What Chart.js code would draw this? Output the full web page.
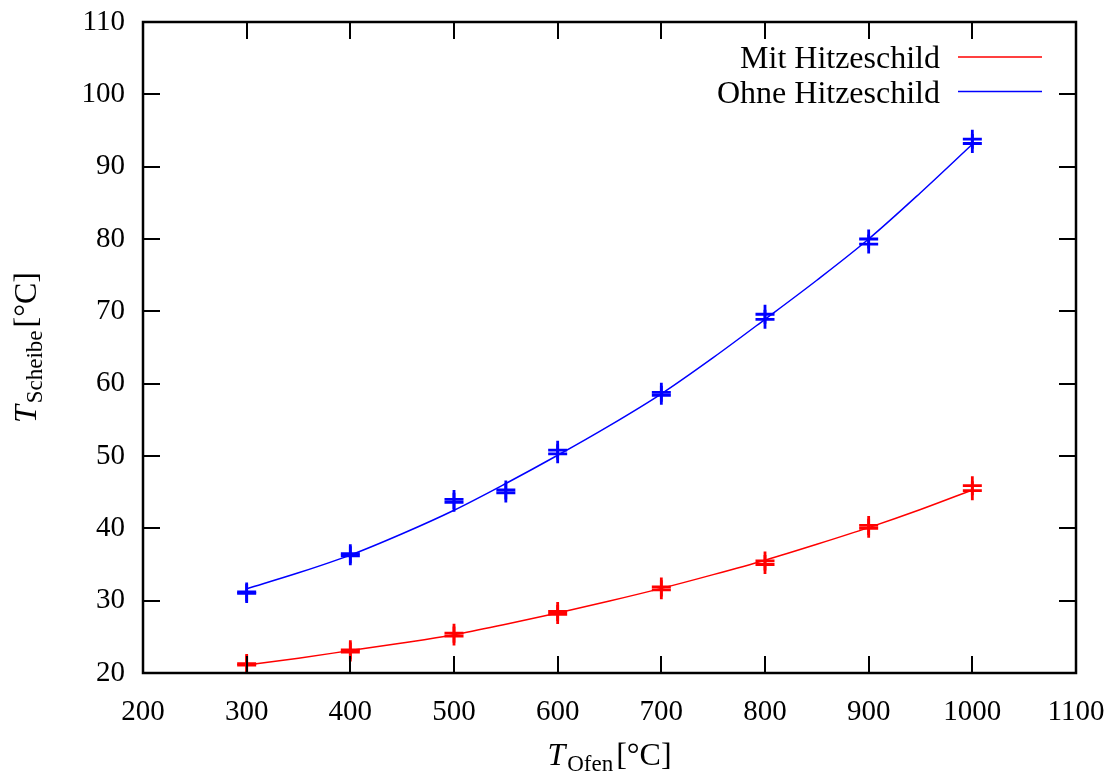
<!DOCTYPE html>
<html>
<head>
<meta charset="utf-8">
<script src="https://cdn.jsdelivr.net/npm/chart.js@4/dist/chart.umd.min.js"></script>
<style>
  html, body { margin: 0; padding: 0; background: #fff; }
  #wrap { width: 1110px; height: 776px; }
</style>
</head>
<body>
<div id="wrap"><canvas id="chart"></canvas></div>
<script>
// measured points (two readings per oven temperature)
const mitX = [300, 300, 400, 400, 500, 500, 600, 600, 700, 700, 800, 800, 900, 900, 1000, 1000];
const mitY = [21.1, 21.3, 22.9, 23.2, 25.1, 25.5, 28.1, 28.5, 31.5, 31.9, 35.0, 35.5, 40.0, 40.4, 45.2, 45.9];
const ohneX = [300, 300, 400, 400, 500, 500, 550, 550, 600, 600, 700, 700, 800, 800, 900, 900, 1000, 1000];
const ohneY = [31.0, 31.2, 36.2, 36.5, 43.6, 44.0, 44.9, 45.3, 50.3, 50.8, 58.4, 58.8, 68.9, 69.6, 79.3, 80.0, 93.2, 93.8];

// fit curves
const fitX = [300, 350, 400, 450, 500, 550, 600, 650, 700, 750, 800, 850, 900, 950, 1000];
const mitFit = [21.1, 22.05, 23.1, 24.15, 25.3, 26.75, 28.3, 29.95, 31.7, 33.6, 35.6, 37.8, 40.1, 42.6, 45.3];
const ohneFit = [31.65, 33.85, 36.3, 39.25, 42.5, 46.2, 50.1, 54.2, 58.6, 63.6, 68.9, 74.3, 80.0, 86.4, 93.1];

const xTicks = [200, 300, 400, 500, 600, 700, 800, 900, 1000, 1100];
const yTicks = [20, 30, 40, 50, 60, 70, 80, 90, 100, 110];

const RED = '#ff0000';
const BLUE = '#0000ff';
const SERIF = '"Liberation Serif", "DejaVu Serif", serif';

const pts = (xs, ys) => xs.map((x, i) => ({ x: x, y: ys[i] }));

// frame + inward ticks on all four sides, gnuplot style
const framePlugin = {
    id: 'frame',
    afterDatasetsDraw(chart) {
        const { ctx, chartArea: a, scales } = chart;
        const len = 17;
        ctx.save();
        ctx.strokeStyle = '#000';
        ctx.lineWidth = 2;
        ctx.beginPath();
        xTicks.forEach(v => {
            const px = Math.round(scales.x.getPixelForValue(v));
            ctx.moveTo(px, a.bottom); ctx.lineTo(px, a.bottom - len);
            ctx.moveTo(px, a.top); ctx.lineTo(px, a.top + len);
        });
        yTicks.forEach(v => {
            const py = Math.round(scales.y.getPixelForValue(v));
            ctx.moveTo(a.left, py); ctx.lineTo(a.left + len, py);
            ctx.moveTo(a.right, py); ctx.lineTo(a.right - len, py);
        });
        ctx.stroke();
        ctx.lineWidth = 2.5;
        ctx.strokeRect(a.left, a.top, a.right - a.left, a.bottom - a.top);
        ctx.restore();
    }
};

// draws "T_sub[°C]" with a lowered subscript
function drawLabel(ctx, sub, cx, baseline) {
    const big = '32px ' + SERIF;
    const bigIt = 'italic 32px ' + SERIF;
    const small = '23px ' + SERIF;
    ctx.font = bigIt; const wT = ctx.measureText('T').width;
    ctx.font = small; const wS = ctx.measureText(sub).width;
    ctx.font = big; const wU = ctx.measureText('[°C]').width;
    let x = cx - (wT + 2 + wS + 3 + wU) / 2;
    ctx.textBaseline = 'alphabetic';
    ctx.textAlign = 'left';
    ctx.font = bigIt; ctx.fillText('T', x, baseline); x += wT + 2;
    ctx.font = small; ctx.fillText(sub, x, baseline + 6); x += wS + 3;
    ctx.font = big; ctx.fillText('[°C]', x, baseline);
}

const titlesPlugin = {
    id: 'titles',
    afterDraw(chart) {
        const { ctx, chartArea: a } = chart;
        ctx.save();
        ctx.fillStyle = '#000';
        drawLabel(ctx, 'Ofen', (a.left + a.right) / 2, 765);
        ctx.translate(36, (a.top + a.bottom) / 2);
        ctx.rotate(-Math.PI / 2);
        drawLabel(ctx, 'Scheibe', 0, 0);
        ctx.restore();
    }
};

// key in the upper right corner: text then line sample
const keyPlugin = {
    id: 'key',
    afterDraw(chart) {
        const { ctx } = chart;
        ctx.save();
        ctx.font = '32px ' + SERIF;
        ctx.textAlign = 'right';
        ctx.textBaseline = 'alphabetic';
        ctx.fillStyle = '#000';
        chart.data.datasets.filter(d => d.keyRow !== undefined).forEach(d => {
            const y = 57 + d.keyRow * 34.5;
            ctx.fillText(d.label, 940, y + 11);
            ctx.strokeStyle = d.borderColor;
            ctx.lineWidth = 1.5;
            ctx.beginPath();
            ctx.moveTo(958, y);
            ctx.lineTo(1042, y);
            ctx.stroke();
        });
        ctx.restore();
    }
};

const fitStyle = {
    showLine: true,
    pointRadius: 0,
    borderWidth: 1.5,
    cubicInterpolationMode: 'monotone',
    fill: false
};
const markStyle = {
    showLine: false,
    pointStyle: 'cross',
    pointRadius: 9.5,
    pointBorderWidth: 2.8
};

// the tick labels must not push the plot area inwards
const noOverflow = s => {
    s.paddingLeft = 0; s.paddingRight = 0;
    s.paddingTop = 0; s.paddingBottom = 0;
};

new Chart(document.getElementById('chart'), {
    type: 'scatter',
    data: {
        datasets: [
            { label: 'Mit Hitzeschild', keyRow: 0, data: pts(fitX, mitFit), borderColor: RED, ...fitStyle },
            { label: 'Ohne Hitzeschild', keyRow: 1, data: pts(fitX, ohneFit), borderColor: BLUE, ...fitStyle },
            { label: 'Mit Messung', data: pts(mitX, mitY), borderColor: RED, backgroundColor: RED, ...markStyle },
            { label: 'Ohne Messung', data: pts(ohneX, ohneY), borderColor: BLUE, backgroundColor: BLUE, ...markStyle }
        ]
    },
    options: {
        responsive: true,
        maintainAspectRatio: false,
        animation: false,
        layout: { padding: { top: 22, right: 34, left: 0, bottom: 0 } },
        plugins: {
            legend: { display: false },
            tooltip: { enabled: false }
        },
        scales: {
            x: {
                type: 'linear',
                min: 200, max: 1100,
                grid: { display: false, drawTicks: false },
                border: { display: false },
                afterBuildTicks: s => { s.ticks = xTicks.map(v => ({ value: v })); },
                afterFit: s => { s.height = 103; noOverflow(s); },
                ticks: {
                    padding: 22,
                    color: '#000',
                    maxRotation: 0,
                    callback: v => String(v),
                    font: { family: SERIF, size: 29 }
                }
            },
            y: {
                type: 'linear',
                min: 20, max: 110,
                grid: { display: false, drawTicks: false },
                border: { display: false },
                afterBuildTicks: s => { s.ticks = yTicks.map(v => ({ value: v })); },
                afterFit: s => { s.width = 143; noOverflow(s); },
                ticks: {
                    padding: 18,
                    color: '#000',
                    callback: v => String(v),
                    font: { family: SERIF, size: 29 }
                }
            }
        }
    },
    plugins: [framePlugin, titlesPlugin, keyPlugin]
});
</script>
</body>
</html>
